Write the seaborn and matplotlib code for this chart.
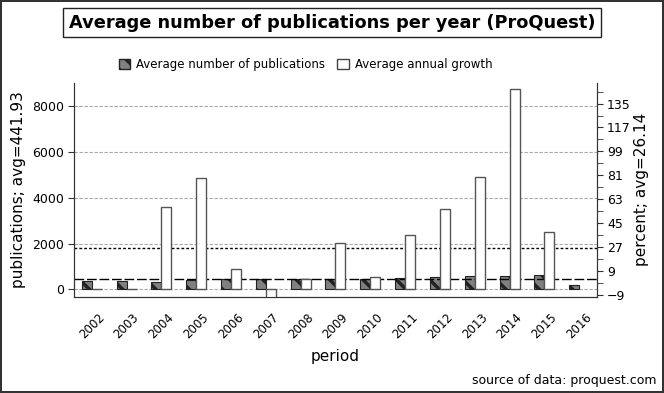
import numpy as np
import pandas as pd
import matplotlib
matplotlib.use("Agg")
import matplotlib.pyplot as plt
from matplotlib.patches import Patch
import seaborn as sns

# data
years = [2002, 2003, 2004, 2005, 2006, 2007, 2008, 2009,
         2010, 2011, 2012, 2013, 2014, 2015, 2016]
publications = [350, 345, 330, 410, 435, 440, 440, 445,
                455, 480, 530, 565, 595, 610, 200]
growth = [0, 0, 62.2, 83.6, 15.3, -15, 7.5, 34.6,
          9.0, 40.7, 60.7, 84.8, 150.8, 43.4, np.nan]
pub_avg = 441.93
growth_avg = 26.14

pub_label = "Average number of publications"
growth_label = "Average annual growth"

sns.set_style("white")
plt.rcParams["font.family"] = ["DejaVu Sans"]
plt.rcParams["hatch.linewidth"] = 2.5
for key in ("text.color", "axes.labelcolor", "xtick.color", "ytick.color"):
    plt.rcParams[key] = "black"

fig = plt.figure(figsize=(6.64, 3.93), dpi=100)
fig.patch.set_edgecolor("#333333")
fig.patch.set_linewidth(1.5)

ax = fig.add_axes([0.1119, 0.245, 0.7867, 0.5438])

# long table, growth rows left empty on the publications axis so dodge keeps its slot
df = pd.DataFrame({
    "period": [str(y) for y in years] * 2,
    "value": publications + [np.nan] * len(years),
    "series": [pub_label] * len(years) + [growth_label] * len(years),
})

sns.barplot(data=df, x="period", y="value", hue="series",
            hue_order=[pub_label, growth_label],
            palette=["#808080", "white"], width=0.574,
            errorbar=None, saturation=1, legend=False, ax=ax)

for p in ax.patches:
    p.set_hatch("\\\\")
    p.set_edgecolor("#222222")
    p.set_linewidth(0.8)

ax.set_ylim(-325, 9020)
ax.set_yticks([0, 2000, 4000, 6000, 8000])
ax.yaxis.grid(True, color="#a8a8a8", linestyle=(0, (3, 1.5)), linewidth=0.8)
ax.set_axisbelow(True)
ax.axhline(pub_avg, color="black", linestyle=(0, (7, 2)), linewidth=1, zorder=3)

# growth bars on the right axis, starting at the left-axis zero line
ax2 = ax.twinx()
ax2.set_ylim(-10.5, 150.5)
lo, hi = ax.get_ylim()
r_lo, r_hi = ax2.get_ylim()
baseline = r_lo + (0 - lo) / (hi - lo) * (r_hi - r_lo)
ax2.bar(np.arange(len(years)), growth, width=0.287, align="edge",
        bottom=baseline, color="white", edgecolor="#555555", linewidth=1)
ax2.axhline(growth_avg, color="black", linestyle=(0, (2, 1.5)), linewidth=1, zorder=0.5)
ax2.set_yticks(np.arange(-9, 136, 18))
ax2.set_yticks(np.arange(0, 145, 18), minor=True)

ax.set_xlim(-0.5, len(years) - 0.5)
ax.set_xticks(np.arange(-0.5, len(years), 1), minor=True)
ax.tick_params(axis="x", which="major", length=0, pad=10, labelsize=8.5,
               labelrotation=45)
ax.tick_params(axis="x", which="minor", length=5, color="#333333")
ax.tick_params(axis="y", which="major", length=4, labelsize=9,
               left=True, color="#333333")
ax2.tick_params(axis="y", which="both", length=4, labelsize=9,
                right=True, color="#333333")
for lab in ax.get_xticklabels():
    lab.set_ha("center")

for a in (ax, ax2):
    a.spines["top"].set_visible(False)
    for s in ("left", "right", "bottom"):
        a.spines[s].set_color("#333333")

ax.set_xlabel("period", fontsize=11, labelpad=6)
ax.set_ylabel("publications; avg=441.93", fontsize=11, labelpad=4)
ax2.set_ylabel("percent; avg=26.14", fontsize=11, labelpad=2)

handles = [Patch(facecolor="#808080", edgecolor="#222222", hatch="\\\\", label=pub_label),
           Patch(facecolor="white", edgecolor="#444444", label=growth_label)]
fig.legend(handles=handles, loc="center", bbox_to_anchor=(0.46, 0.836), ncol=2,
           frameon=False, fontsize=8.5, handlelength=1.0, handleheight=0.9,
           handletextpad=0.5, columnspacing=1.0)

fig.text(0.5, 1 - 22.5 / 393, "Average number of publications per year (ProQuest)",
         ha="center", va="center", fontsize=12.8, fontweight="bold",
         bbox=dict(boxstyle="square,pad=0.3", fc="white", ec="#222222", lw=1))
fig.text(0.988, 0.033, "source of data: proquest.com", ha="right", va="center",
         fontsize=9)

fig.savefig("out.png", dpi=100)
